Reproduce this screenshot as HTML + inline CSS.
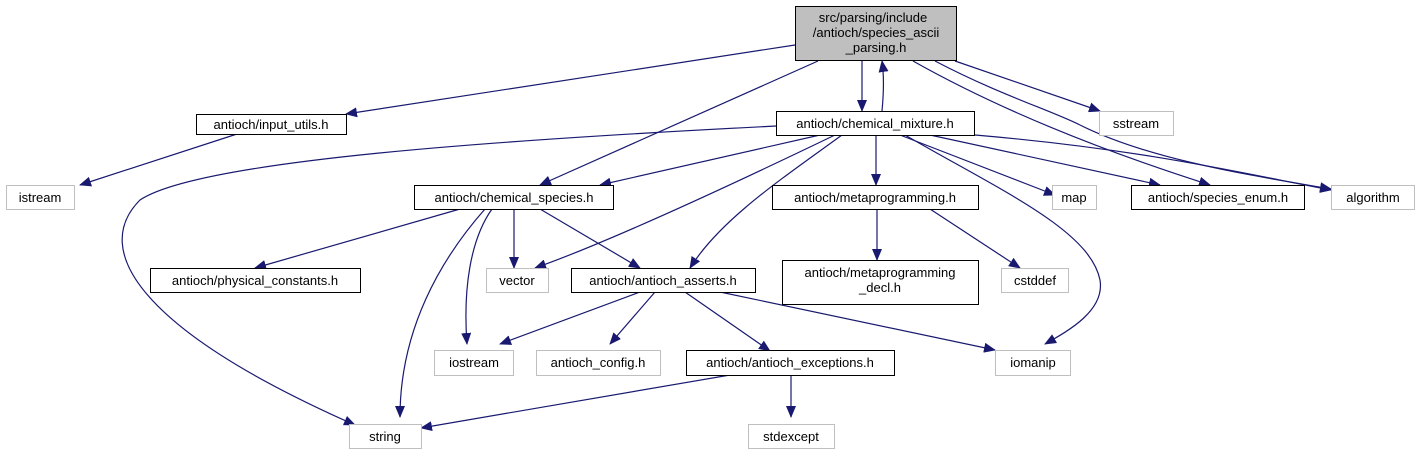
<!DOCTYPE html>
<html><head><meta charset="utf-8"><style>
body{margin:0;background:#fff}
svg text{font-family:"Liberation Sans",sans-serif;font-size:13px;fill:#000}
</style></head><body>
<svg width="1420" height="456" viewBox="0 0 1420 456" xmlns="http://www.w3.org/2000/svg">
<defs><marker id="a" markerWidth="12" markerHeight="10" refX="11" refY="5" orient="auto" markerUnits="userSpaceOnUse"><path d="M0,0 L12,5 L0,10 Z" fill="#191970"/></marker></defs>
<g fill="none" stroke="#191970" stroke-width="1.2" marker-end="url(#a)">
<path d="M795,45 L346,114"/>
<path d="M818,61 L540,185"/>
<path d="M862,61 L862,111"/>
<path d="M882,111 C884,90 884,75 882,61"/>
<path d="M913,61 C1000,110 1100,150 1210,185"/>
<path d="M955,61 L1100,111"/>
<path d="M935,61 C1000,95 1050,110 1080,125 C1150,160 1250,175 1331,189"/>
<path d="M237,134 L80,185"/>
<path d="M776,126 C500,140 200,160 140,200 C90,250 140,330 355,425"/>
<path d="M820,135 L600,185"/>
<path d="M835,135 C700,200 600,245 535,268"/>
<path d="M842,135 C780,180 720,220 690,268"/>
<path d="M876,135 L876,185"/>
<path d="M900,135 L1055,195"/>
<path d="M930,135 L1160,185"/>
<path d="M975,135 C1150,150 1250,175 1331,190"/>
<path d="M905,135 C1000,190 1090,230 1100,280 C1105,310 1070,330 1045,344"/>
<path d="M460,209 L255,268"/>
<path d="M514,209 L514,268"/>
<path d="M540,209 L640,268"/>
<path d="M492,209 C470,240 463,290 467,344"/>
<path d="M485,209 C440,260 400,330 400,417"/>
<path d="M877,209 L877,260"/>
<path d="M930,209 L1020,268"/>
<path d="M640,292 L500,344"/>
<path d="M655,292 L610,344"/>
<path d="M685,292 L770,351"/>
<path d="M720,292 L995,350"/>
<path d="M730,375 L421,428"/>
<path d="M791,375 L791,417"/>
</g>
<g stroke-width="1">
<rect x="795.5" y="6.5" width="161" height="54" fill="#bfbfbf" stroke="#000"/>
<rect x="196.5" y="114.5" width="150" height="20" fill="#fff" stroke="#000"/>
<rect x="776.5" y="111.5" width="198" height="24" fill="#fff" stroke="#000"/>
<rect x="1099.5" y="111.5" width="74" height="24" fill="#fff" stroke="#bfbfbf"/>
<rect x="6.5" y="185.5" width="68" height="24" fill="#fff" stroke="#bfbfbf"/>
<rect x="414.5" y="185.5" width="199" height="24" fill="#fff" stroke="#000"/>
<rect x="1052.5" y="185.5" width="44" height="24" fill="#fff" stroke="#bfbfbf"/>
<rect x="1131.5" y="185.5" width="173" height="24" fill="#fff" stroke="#000"/>
<rect x="1331.5" y="185.5" width="83" height="24" fill="#fff" stroke="#bfbfbf"/>
<rect x="772.5" y="185.5" width="206" height="24" fill="#fff" stroke="#000"/>
<rect x="150.5" y="268.5" width="210" height="24" fill="#fff" stroke="#000"/>
<rect x="486.5" y="268.5" width="62" height="24" fill="#fff" stroke="#bfbfbf"/>
<rect x="571.5" y="268.5" width="184" height="24" fill="#fff" stroke="#000"/>
<rect x="782.5" y="260.5" width="196" height="44" fill="#fff" stroke="#000"/>
<rect x="1001.5" y="268.5" width="67" height="24" fill="#fff" stroke="#bfbfbf"/>
<rect x="434.5" y="350.5" width="79" height="25" fill="#fff" stroke="#bfbfbf"/>
<rect x="536.5" y="350.5" width="124" height="25" fill="#fff" stroke="#bfbfbf"/>
<rect x="686.5" y="350.5" width="208" height="25" fill="#fff" stroke="#000"/>
<rect x="995.5" y="350.5" width="75" height="25" fill="#fff" stroke="#bfbfbf"/>
<rect x="349.5" y="424.5" width="72" height="24" fill="#fff" stroke="#bfbfbf"/>
<rect x="748.5" y="424.5" width="86" height="24" fill="#fff" stroke="#bfbfbf"/>
</g>
<g text-anchor="middle">
<text x="873" y="22">src/parsing/include</text>
<text x="876" y="37">/antioch/species_ascii</text>
<text x="876" y="52">_parsing.h</text>
<text x="271" y="129">antioch/input_utils.h</text>
<text x="875" y="128">antioch/chemical_mixture.h</text>
<text x="1136" y="128">sstream</text>
<text x="40" y="202">istream</text>
<text x="514" y="202">antioch/chemical_species.h</text>
<text x="1074" y="202">map</text>
<text x="1218" y="202">antioch/species_enum.h</text>
<text x="1373" y="202">algorithm</text>
<text x="875" y="202">antioch/metaprogramming.h</text>
<text x="255" y="285">antioch/physical_constants.h</text>
<text x="517" y="285">vector</text>
<text x="663" y="285">antioch/antioch_asserts.h</text>
<text x="880" y="277">antioch/metaprogramming</text>
<text x="880" y="292">_decl.h</text>
<text x="1035" y="285">cstddef</text>
<text x="474" y="367">iostream</text>
<text x="598" y="367">antioch_config.h</text>
<text x="790" y="367">antioch/antioch_exceptions.h</text>
<text x="1033" y="367">iomanip</text>
<text x="385" y="441">string</text>
<text x="791" y="441">stdexcept</text>
</g>
</svg>
</body></html>
